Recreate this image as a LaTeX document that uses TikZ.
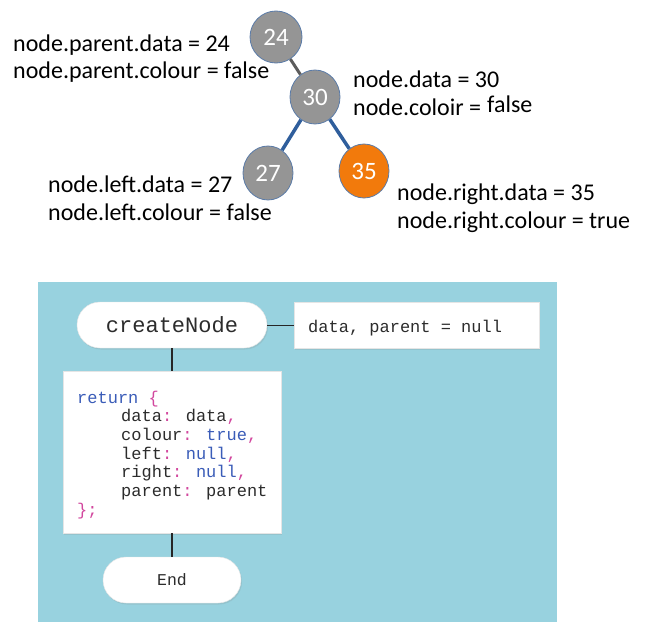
\documentclass[tikz,border=0pt]{standalone}
\usepackage{fontspec}
\setmainfont{Carlito}
\newfontfamily\codefont{Liberation Mono}
\usetikzlibrary{shapes.geometric,shadows}
\definecolor{treegray}{HTML}{959595}
\definecolor{treeedge}{HTML}{5A7BA8}
\definecolor{treeorange}{HTML}{F27A0C}
\definecolor{linkblue}{HTML}{2F5E9C}
\definecolor{linkgray}{HTML}{5C5C5C}
\definecolor{panelblue}{HTML}{98D2DF}
\definecolor{codegray}{HTML}{2C2C2C}
\definecolor{kwblue}{HTML}{3A5CB8}
\definecolor{punctpink}{HTML}{D2479E}
\tikzset{
  treenode/.style={ellipse, draw=treeedge, line width=0.8pt, fill=treegray,
    minimum width=50pt, minimum height=54pt, inner sep=0pt, text=white,
    font=\fontsize{25}{25}\selectfont},
  label text/.style={anchor=base west, inner sep=0pt, text=black,
    font=\fontsize{24}{24}\selectfont},
  whitebox/.style={fill=white, draw=black!10, line width=0.4pt, inner sep=0pt,
    drop shadow={opacity=0.18, shadow xshift=1pt, shadow yshift=-1.5pt}},
  terminal/.style={whitebox, rounded corners=23pt, minimum height=46pt},
  codeline/.style={anchor=base west, inner sep=0pt, text=codegray,
    font=\codefont\fontsize{17}{17}\selectfont},
  flowline/.style={draw=black!85, line width=1.6pt},
}
\newcommand{\kw}[1]{\textcolor{kwblue}{#1}}
\newcommand{\pu}[1]{\textcolor{punctpink}{#1}}
\begin{document}
\begin{tikzpicture}[x=1pt, y=-1pt]
\useasboundingbox (0,0) rectangle (653,629);
% ---- tree ----
\node[treenode, minimum height=52pt, minimum width=52pt] (n24) at (276,37) {24};
\node[treenode] (n30) at (315,97) {30};
\node[treenode] (n27) at (268,173) {27};
\node[treenode, fill=treeorange] (n35) at (364,171) {35};
\draw[linkgray, line width=3pt] (n24) -- (n30);
\draw[linkblue, line width=3.5pt] (n30) -- (n27);
\draw[linkblue, line width=3.5pt] (n30) -- (n35);
% ---- labels ----
\node[label text] (lp1) at (13,51) {node.parent.data = 24};
\node[label text] (lp2) at (13,78) {node.parent.colour = false};
\node[label text] (lc1) at (353,87) {node.data = 30};
\node[label text] (lc2) at (353,115) {node.coloir =};
\node[label text] (lc3) at (487,112) {false};
\node[label text] (ll1) at (48,192) {node.left.data = 27};
\node[label text] (ll2) at (48,220) {node.left.colour = false};
\node[label text] (lr1) at (397,200) {node.right.data = 35};
\node[label text] (lr2) at (397,228) {node.right.colour = true};
% ---- flowchart ----
\fill[panelblue] (38,282) rectangle (557,622);
\node[terminal, minimum width=190pt] (create) at (172,325) {};
\node[whitebox, minimum width=245pt, minimum height=46pt] (params) at (416.5,325) {};
\node[whitebox, minimum width=218pt, minimum height=162pt] (ret) at (172,452) {};
\node[terminal, minimum width=138pt] (endn) at (172,580) {};
\draw[draw=black!85, line width=1pt] (create) -- (params);
\draw[flowline] (create) -- (ret);
\draw[flowline] (ret) -- (endn);
\node[anchor=center, inner sep=0pt, text=codegray, font=\codefont\fontsize{22}{22}\selectfont] (createtxt) at (create.center) {createNode};
\node[codeline] (paramtxt) at (308,332) {data, parent = null};
\node[anchor=center, inner sep=0pt, text=codegray, font=\codefont\fontsize{16.5}{16.5}\selectfont] (endtxt) at (endn.center) {End};
\node[codeline] (c1) at (77,403) {\kw{return} \pu{\{}};
\node[codeline] (c2) at (121,421.7) {data\pu{:} data\pu{,}};
\node[codeline] (c3) at (121,440.4) {colour\pu{:} \kw{true}\pu{,}};
\node[codeline] (c4) at (121,459.1) {left\pu{:} \kw{null}\pu{,}};
\node[codeline] (c5) at (121,477.8) {right\pu{:} \kw{null}\pu{,}};
\node[codeline] (c6) at (121,496.5) {parent\pu{:} parent};
\node[codeline] (c7) at (77,515.2) {\pu{\};}};
\end{tikzpicture}
\end{document}
